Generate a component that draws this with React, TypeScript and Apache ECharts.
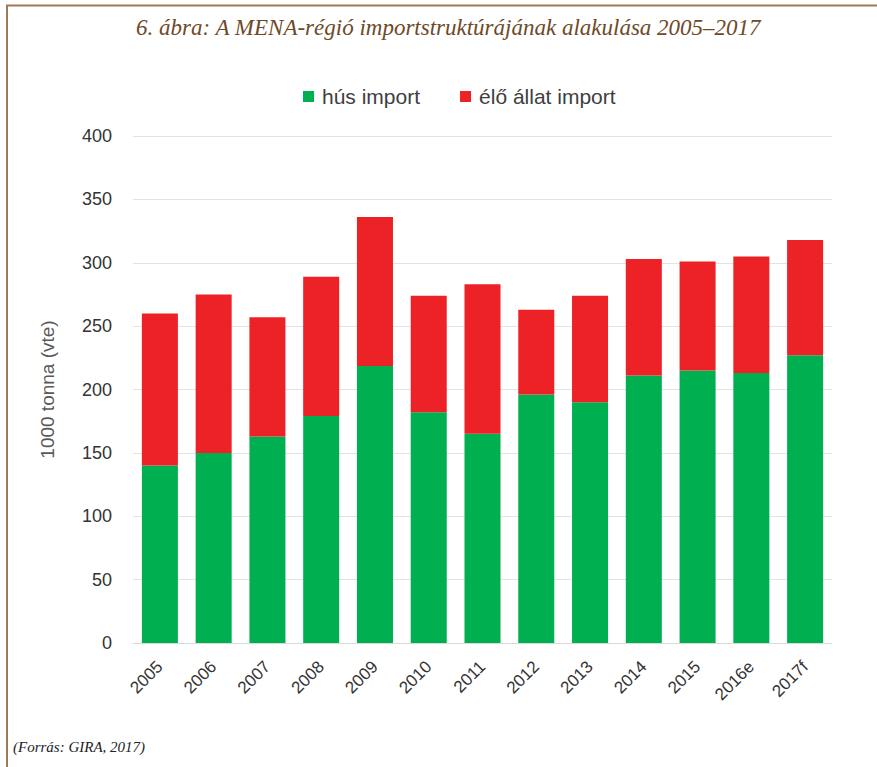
import React, { useEffect, useRef } from "react";
import * as echarts from "echarts";

const categories = ["2005", "2006", "2007", "2008", "2009", "2010", "2011", "2012", "2013", "2014", "2015", "2016e", "2017f"];
const husImport = [140, 150, 163, 179, 218.5, 182, 165, 196, 190, 211, 215, 213, 227];
const eloAllatImport = [120, 125, 94, 110, 117.5, 92, 118, 67, 84, 92, 86, 92, 91];
const yTicks = { min: 0, max: 400, interval: 50 };
const titleText = "6. ábra: A MENA-régió importstruktúrájának alakulása 2005–2017";
const sourceText = "(Forrás: GIRA, 2017)";
const yAxisName = "1000 tonna (vte)";
const seriesNames = ["hús import", "élő állat import"];

export default function App() {
  const ref = useRef<HTMLDivElement>(null);
  useEffect(() => {
    if (!ref.current) return;
    const chart = echarts.init(ref.current, null, { renderer: "svg" });
    const frame = "#9c7b56";
    chart.setOption({
      animation: false,
      backgroundColor: "#ffffff",
      graphic: [
        { type: "line", shape: { x1: 6, y1: 5.5, x2: 877, y2: 5.5 }, style: { stroke: frame, lineWidth: 2 } },
        { type: "line", shape: { x1: 7, y1: 5, x2: 7, y2: 767 }, style: { stroke: frame, lineWidth: 2 } },
        {
          type: "text",
          left: 136,
          top: 16,
          style: {
            text: titleText,
            font: "italic 23px 'Liberation Serif', serif",
            fill: "#6e4a28",
          },
        },
        {
          type: "text",
          left: 13,
          top: 739,
          style: {
            text: sourceText,
            font: "italic 15px 'Liberation Serif', serif",
            fill: "#222222",
          },
        },
      ],
      legend: {
        left: 298,
        top: 81,
        itemWidth: 11,
        itemHeight: 11,
        itemGap: 40,
        icon: "rect",
        textStyle: { fontFamily: "Liberation Sans, Arial", fontSize: 21, color: "#404040", padding: [0, 0, 0, 3] },
        data: seriesNames,
      },
      grid: { left: 133, right: 45, top: 136, bottom: 124, containLabel: false },
      xAxis: {
        type: "category",
        data: categories,
        axisLine: { lineStyle: { color: "#d9d9d9", width: 1 } },
        axisTick: { show: false },
        axisLabel: {
          rotate: 45,
          interval: 0,
          margin: 21,
          fontFamily: "Liberation Sans, Arial",
          fontSize: 17,
          color: "#333333",
        },
      },
      yAxis: {
        type: "value",
        min: yTicks.min,
        max: yTicks.max,
        interval: yTicks.interval,
        name: yAxisName,
        nameLocation: "middle",
        nameGap: 76,
        nameTextStyle: { fontFamily: "Liberation Sans, Arial", fontSize: 19, color: "#595959" },
        axisLine: { show: false },
        axisTick: { show: false },
        axisLabel: { margin: 21, fontFamily: "Liberation Sans, Arial", fontSize: 18, color: "#333333" },
        splitLine: { lineStyle: { color: "#e3e3e3", width: 1 } },
      },
      series: [
        {
          name: seriesNames[0],
          type: "bar",
          stack: "total",
          data: husImport,
          barWidth: "67%",
          itemStyle: { color: "#00b050" },
        },
        {
          name: seriesNames[1],
          type: "bar",
          stack: "total",
          data: eloAllatImport,
          barWidth: "67%",
          itemStyle: { color: "#ec2227" },
        },
      ],
    });
    return () => chart.dispose();
  }, []);
  return <div ref={ref} style={{ position: "fixed", left: 0, top: 0, width: 877, height: 767 }} />;
}
